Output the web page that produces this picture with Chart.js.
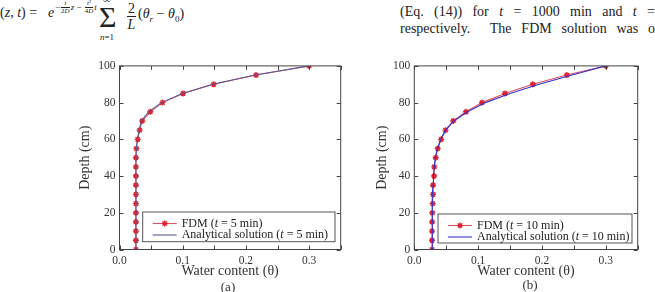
<!DOCTYPE html>
<html>
<head>
<meta charset="utf-8">
<script src="https://cdn.jsdelivr.net/npm/chart.js@4"></script>
<style>
body { margin: 0; width: 655px; height: 292px; background: #fff; position: relative; overflow: hidden;
       font-family: 'Liberation Serif', serif; color: #222; }
.abs { position: absolute; white-space: nowrap; }
canvas { position: absolute; }
.jl { position: absolute; left: 400px; width: 255px; text-align: justify; text-align-last: justify; font-size: 14px; }
.fr { display: inline-block; vertical-align: middle; text-align: center; font-size: 7px; line-height: 7px; margin: 0 1px; }
.fr span { display: block; }
.fr span:first-child { border-bottom: 0.6px solid #222; }
.cap { position: absolute; transform: translate(-50%, -50%); font-size: 13px; color: #333; }
</style>
</head>
<body>
<!-- bits of the paper text around the figure -->
<div class="abs" style="left:0;top:5px;font-size:14px">(<i>z</i>, <i>t</i>) =</div>
<div class="abs" style="left:48px;top:5px;font-size:14px"><i>e</i></div>
<div class="abs" style="left:55px;top:0px;font-size:9px">−<span class="fr"><span><i>t</i></span><span>2<i>D</i></span></span><i>z</i> − <span class="fr"><span><i>t</i>²</span><span>4<i>D</i></span></span><i>t</i></div>
<div class="abs" style="left:103px;top:-7px;font-size:11px">∞</div>
<div class="abs" style="left:99px;top:1px;font-size:30px;line-height:32px">Σ</div>
<div class="abs" style="left:100px;top:32px;font-size:9px"><i>n</i>=1</div>
<div class="abs" style="left:127px;top:1px;font-size:14px;text-align:center;line-height:15px">
  <div style="border-bottom:1px solid #222;padding:0 1px">2</div><div><i>L</i></div>
</div>
<div class="abs" style="left:138px;top:6px;font-size:14px">(<i>θ</i><sub style="font-size:9px"><i>r</i></sub> − <i>θ</i><sub style="font-size:9px">0</sub>)</div>

<div class="jl" style="top:4px">(Eq. (14)) for <i>t</i> = 1000 min and <i>t</i> =</div>
<div class="jl" style="top:21px">respectively. &nbsp;The FDM solution was o</div>

<canvas id="chartA" width="273" height="225" style="left:77px;top:55px"></canvas>
<canvas id="chartB" width="276" height="225" style="left:374px;top:55px"></canvas>
<div class="cap" style="left:228px;top:287px">(a)</div>
<div class="cap" style="left:530px;top:285px">(b)</div>

<script>
// depth in cm, water content theta
const depth = [0, 5, 10, 15, 20, 25, 30, 35, 40, 45, 50, 55, 60, 65, 70, 75, 80, 85, 90, 95, 100];

const fdmA = [0.026, 0.026, 0.026, 0.026, 0.026, 0.026, 0.026, 0.026, 0.026, 0.026, 0.026,
              0.0268, 0.0288, 0.0318, 0.036, 0.0487, 0.068, 0.1005, 0.149, 0.216, 0.300];
const anaA = [0.026, 0.026, 0.026, 0.026, 0.026, 0.026, 0.026, 0.026, 0.026, 0.026, 0.026,
              0.0266, 0.0284, 0.031, 0.0345, 0.046, 0.0665, 0.0995, 0.1475, 0.2145, 0.300];

const fdmB = [0.0278, 0.0278, 0.0278, 0.0279, 0.0282, 0.0288, 0.0293, 0.0293, 0.031, 0.0313, 0.0335,
              0.0367, 0.042, 0.049, 0.061, 0.081, 0.106, 0.142, 0.1856, 0.239, 0.300];
const anaB = [0.0278, 0.0278, 0.0279, 0.028, 0.0282, 0.0285, 0.029, 0.0295, 0.030, 0.0312, 0.033,
              0.0362, 0.0415, 0.049, 0.062, 0.0835, 0.1115, 0.150, 0.1955, 0.247, 0.300];

const xTicks = [0, 0.05, 0.1, 0.15, 0.2, 0.25, 0.3, 0.35];
const yTicks = [0, 20, 40, 60, 80, 100];

const SERIF = "'Liberation Serif', 'Times New Roman', serif";
Chart.defaults.font.family = SERIF;
Chart.defaults.color = '#333';

const pts = (xs) => xs.map((v, i) => ({ x: v, y: depth[i] }));

// box around the plot with inward ticks on all four sides
const boxTicks = {
    id: 'boxTicks',
    afterDraw(chart) {
        const { ctx, chartArea: a, scales: { x, y } } = chart;
        ctx.save();
        ctx.strokeStyle = '#444';
        ctx.lineWidth = 1;
        ctx.strokeRect(a.left, a.top, a.right - a.left, a.bottom - a.top);
        ctx.beginPath();
        x.ticks.forEach(t => {
            const px = Math.round(x.getPixelForValue(t.value)) + 0.5;
            ctx.moveTo(px, a.bottom); ctx.lineTo(px, a.bottom - 4);
            ctx.moveTo(px, a.top); ctx.lineTo(px, a.top + 4);
        });
        y.ticks.forEach(t => {
            const py = Math.round(y.getPixelForValue(t.value)) + 0.5;
            ctx.moveTo(a.left, py); ctx.lineTo(a.left + 4, py);
            ctx.moveTo(a.right, py); ctx.lineTo(a.right - 4, py);
        });
        ctx.stroke();
        ctx.restore();
    }
};

// legend drawn inside the plot, bottom right
const boxLegend = {
    id: 'boxLegend',
    afterDraw(chart, args, o) {
        const { ctx, chartArea: a } = chart;
        const left = a.left + o.left, right = a.right - o.right;
        const bottom = a.bottom - o.bottom, top = bottom - o.height;
        ctx.save();
        ctx.fillStyle = '#fff';
        ctx.fillRect(left, top, right - left, bottom - top);
        ctx.strokeStyle = '#555';
        ctx.lineWidth = 1;
        ctx.strokeRect(left, top, right - left, bottom - top);
        chart.data.datasets.forEach((ds, i) => {
            const cy = top + 11.5 + i * 11.5;
            ctx.strokeStyle = ds.borderColor;
            ctx.lineWidth = ds.borderWidth;
            ctx.beginPath();
            ctx.moveTo(left + 10, cy); ctx.lineTo(left + 34, cy);
            ctx.stroke();
            if (ds.pointRadius > 0) {
                ctx.strokeStyle = ds.pointBorderColor;
                ctx.lineWidth = ds.pointBorderWidth;
                Chart.helpers.drawPoint(ctx, { pointStyle: 'star', radius: ds.pointRadius, borderWidth: ds.pointBorderWidth }, left + 22, cy);
            }
            let tx = left + 39;
            ctx.fillStyle = '#222';
            ctx.textBaseline = 'middle';
            ds.legendText.forEach(([s, it]) => {
                ctx.font = (it ? 'italic ' : '') + '12px ' + SERIF;
                ctx.fillText(s, tx, cy);
                tx += ctx.measureText(s).width;
            });
        });
        ctx.restore();
    }
};

function makeChart(id, fdm, ana, minutes, anaColor, yWidth, rightPad, leg) {
    return new Chart(document.getElementById(id), {
        type: 'scatter',
        data: {
            datasets: [{
                label: 'FDM',
                legendText: [['FDM (', 0], ['t', 1], [' = ' + minutes + ' min)', 0]],
                data: pts(fdm),
                showLine: true,
                borderColor: 'rgba(214,64,86,0.9)',
                borderWidth: 1.1,
                pointStyle: 'star',
                pointRadius: 3,
                pointBorderColor: '#e3202e',
                pointBorderWidth: 1.4,
                order: 1
            }, {
                label: 'Analytical solution',
                legendText: [['Analytical solution (', 0], ['t', 1], [' = ' + minutes + ' min)', 0]],
                data: pts(ana),
                showLine: true,
                borderColor: anaColor,
                borderWidth: 1.1,
                pointRadius: 0,
                order: 0
            }]
        },
        options: {
            responsive: false,
            animation: false,
            devicePixelRatio: 1,
            layout: { padding: { top: 9.7, right: rightPad, left: 0, bottom: 0 } },
            plugins: {
                legend: { display: false },
                tooltip: { enabled: false },
                boxLegend: leg
            },
            scales: {
                x: {
                    type: 'linear', min: 0, max: 0.35,
                    afterFit(s) { s.height = 30.5; },
                    afterBuildTicks(s) { s.ticks = xTicks.map(v => ({ value: v })); },
                    grid: { display: false, drawTicks: false },
                    border: { display: false },
                    ticks: {
                        autoSkip: false, maxRotation: 0, padding: 5, font: { size: 11.5, family: SERIF },
                        callback: v => Math.abs(v * 10 - Math.round(v * 10)) < 1e-6 ? v.toFixed(1) : ''
                    },
                    title: { display: true, text: 'Water content (θ)', font: { size: 14, family: SERIF }, padding: 0 }
                },
                y: {
                    type: 'linear', min: 0, max: 100,
                    afterFit(s) { s.width = yWidth; },
                    afterBuildTicks(s) { s.ticks = yTicks.map(v => ({ value: v })); },
                    grid: { display: false, drawTicks: false },
                    border: { display: false },
                    ticks: { padding: 4, font: { size: 11.5, family: SERIF } },
                    title: { display: true, text: 'Depth (cm)', font: { size: 14, family: SERIF }, padding: 0 }
                }
            }
        },
        plugins: [boxTicks, boxLegend]
    });
}

function drawAll() {
    makeChart('chartA', fdmA, anaA, 5, '#5a5a94', 42.5, 9.3, { left: 23.2, right: 5.7, bottom: 7.8, height: 29.7 });
    makeChart('chartB', fdmB, anaB, 10, '#3434cc', 40.3, 12.3, { left: 23.7, right: 5.7, bottom: 6.5, height: 29 });
}

// make sure the serif face is ready before the canvas uses it
Promise.all([
    document.fonts.load("11px 'Liberation Serif'"),
    document.fonts.load("italic 12px 'Liberation Serif'")
]).then(drawAll, drawAll);
</script>
</body>
</html>
